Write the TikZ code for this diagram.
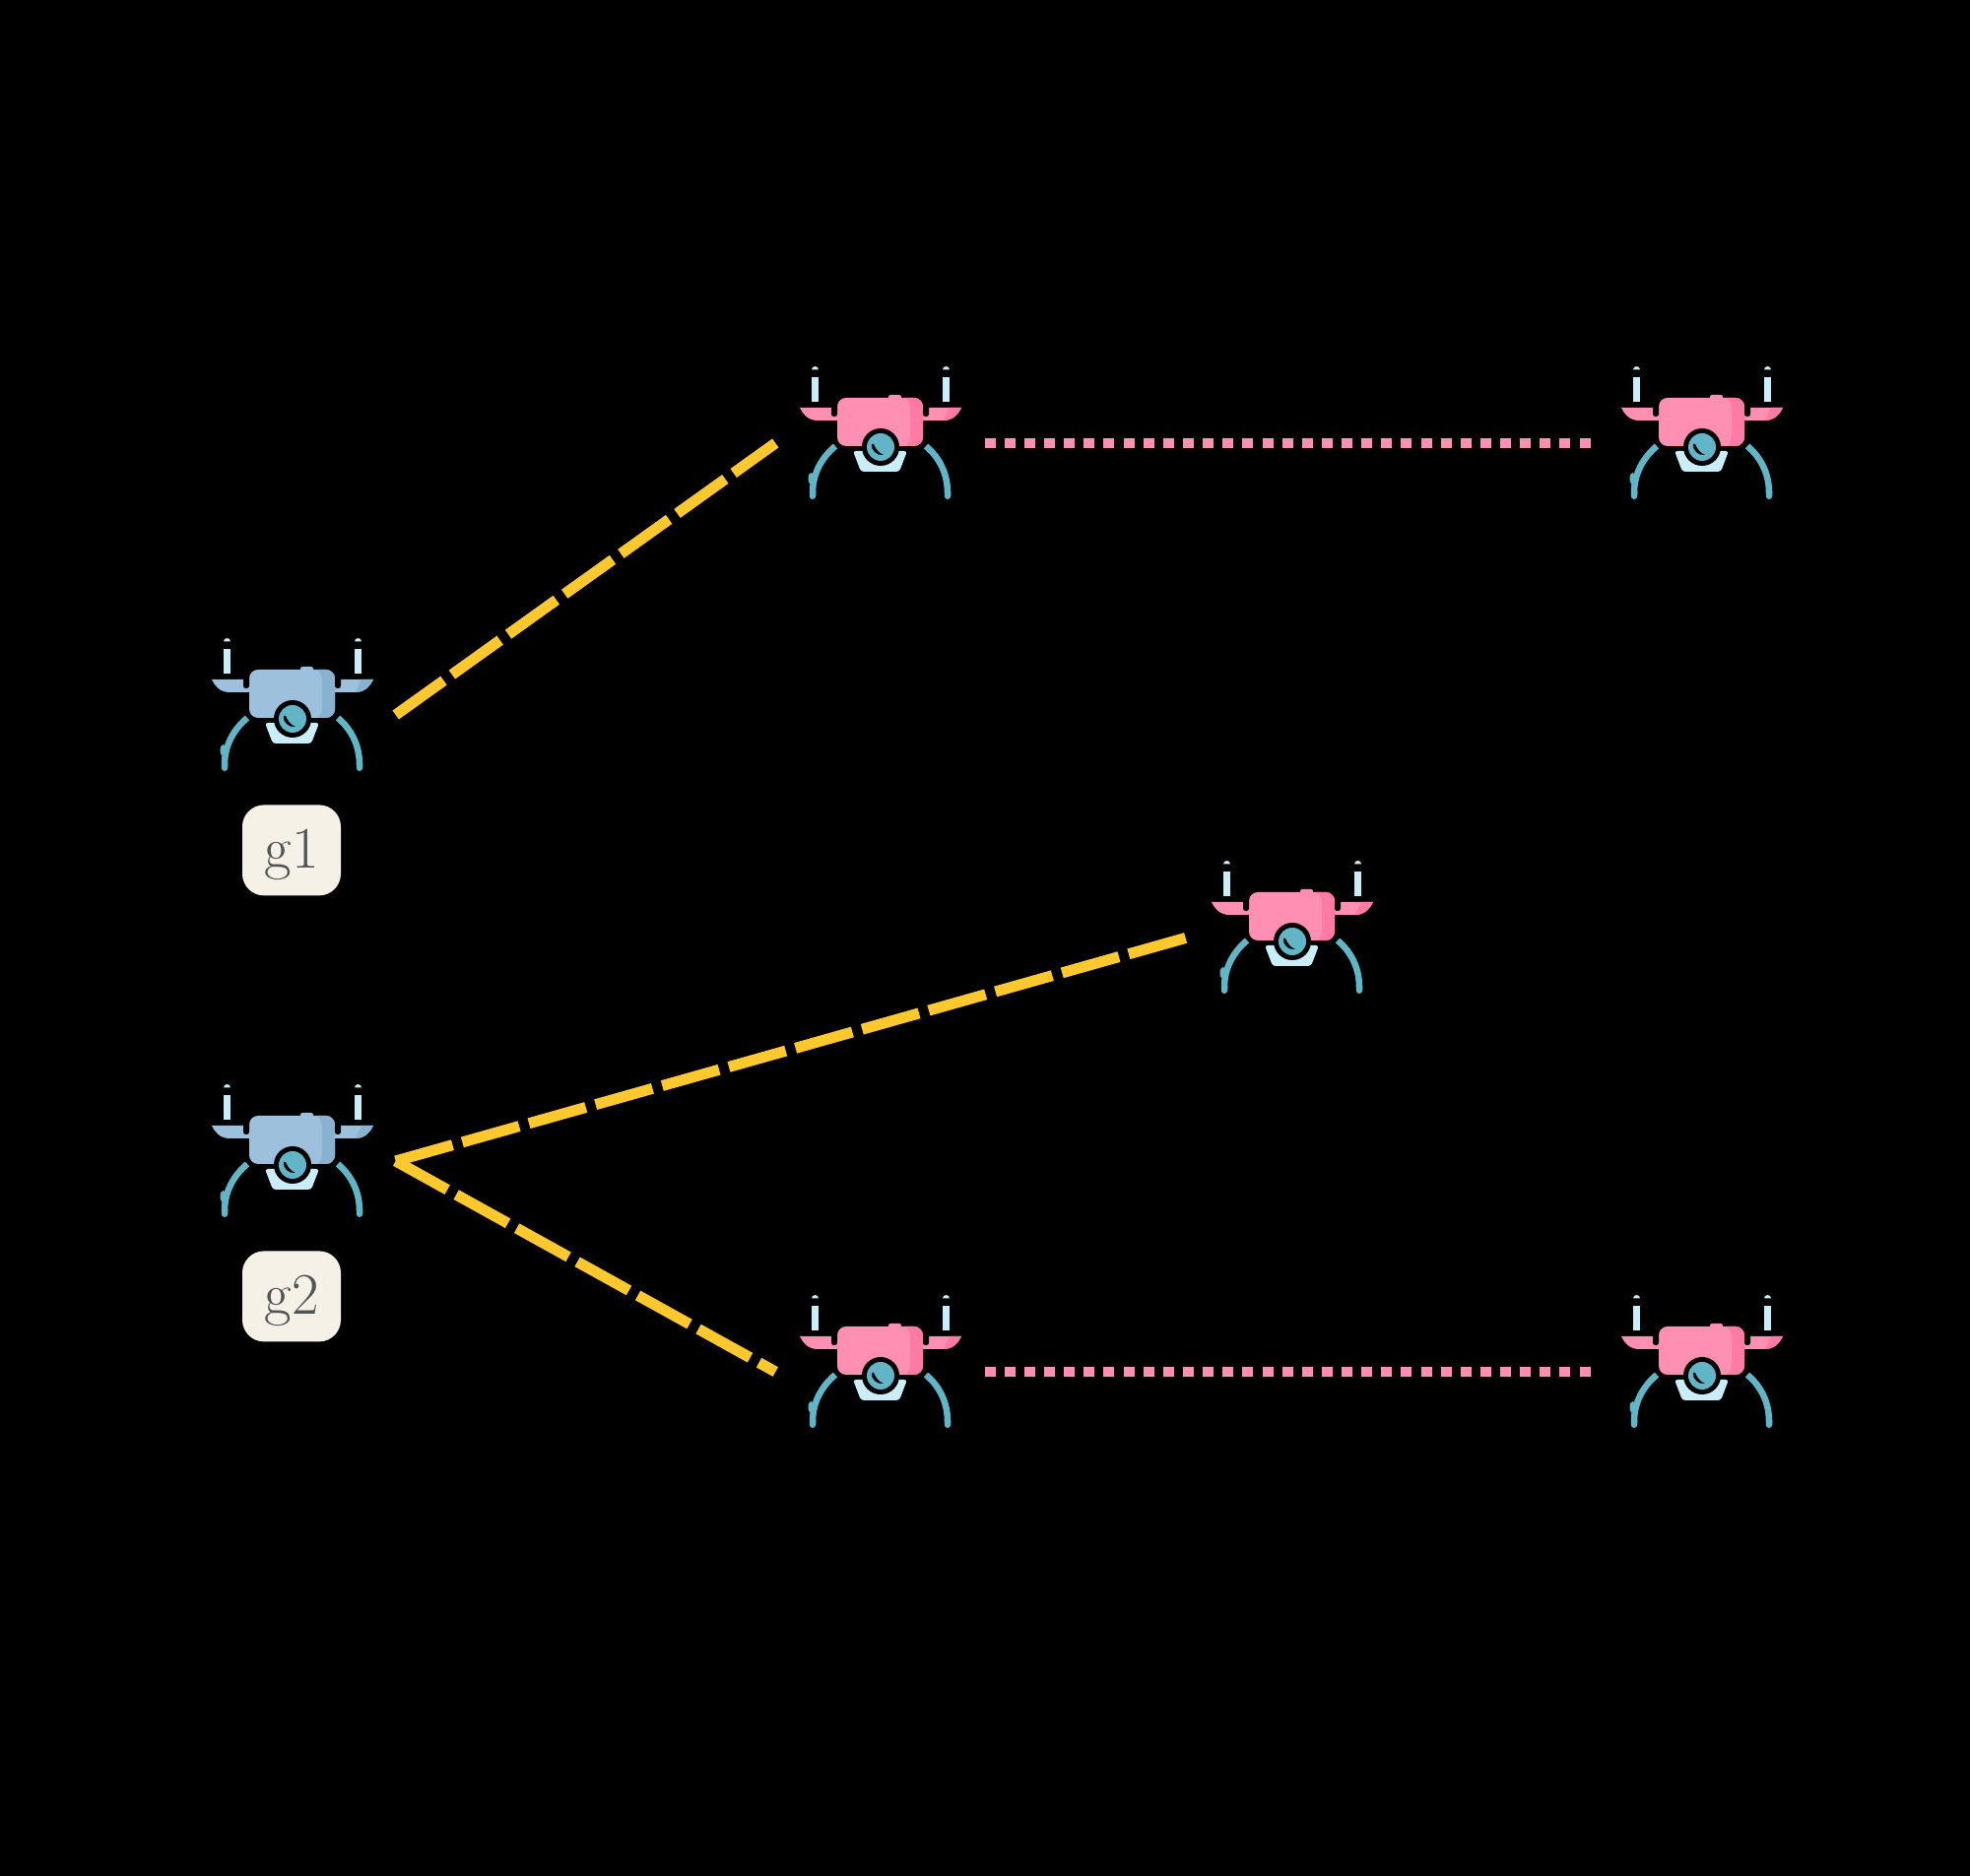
\documentclass[tikz,border=0pt]{standalone}
\usepackage{xcolor}
\usetikzlibrary{positioning,arrows.meta}

\definecolor{bodypink}{HTML}{FF8FB3}
\definecolor{shadepink}{HTML}{FF7BA6}
\definecolor{bodyblue}{HTML}{9DC0DC}
\definecolor{shadeblue}{HTML}{89B2D0}
\definecolor{legteal}{HTML}{62B4C7}
\definecolor{palecyan}{HTML}{C9EEFA}
\definecolor{linkyellow}{HTML}{FFC82F}
\definecolor{labelcream}{HTML}{F6F1E7}
\definecolor{labeltext}{HTML}{50555A}

\tikzset{
    pics/drone/.style 2 args={code={
        % legs
        \draw[legline] (-.45,-.03) .. controls (-.58,-.14) and (-.68,-.30) .. (-.68,-.57);
        \draw[legline] (.47,-.03) .. controls (.60,-.14) and (.69,-.30) .. (.69,-.57);
        \fill[legteal] (-.695,-.36) ellipse (.03 and .06);
        % antennas
        \fill[palecyan] (-.69,.42) rectangle (-.62,.67);
        \fill[palecyan] (.64,.42) rectangle (.71,.67);
        \fill[palecyan] (-.69,.745) arc[start angle=180,end angle=0,radius=.035] -- cycle;
        \fill[palecyan] (.64,.745) arc[start angle=180,end angle=0,radius=.035] -- cycle;
        % wings
        \fill[#1] (-.81,.36) -- (-.40,.36) -- (-.40,.23) -- (-.63,.23) .. controls (-.72,.23) and (-.78,.29) .. cycle;
        \fill[#1] (.83,.36) -- (.40,.36) -- (.40,.23) -- (.65,.23) .. controls (.74,.23) and (.80,.29) .. cycle;
        \fill[#2] (.71,.36) -- (.83,.36) .. controls (.80,.29) and (.74,.23) .. (.65,.23) .. controls (.67,.28) and (.69,.32) .. cycle;
        % body
        \fill[#1, rounded corners=.09cm] (-.43,-.03) rectangle (.44,.46);
        \fill[#1, rounded corners=.02cm] (.09,.44) rectangle (.22,.49);
        \begin{scope}
            \clip[rounded corners=.09cm] (-.43,-.03) rectangle (.44,.46);
            \fill[#2] (.25,.47) .. controls (.30,.43) and (.31,.38) .. (.31,.34) -- (.31,.08) .. controls (.31,.03) and (.29,-.01) .. (.26,-.04) -- (.50,-.04) -- (.50,.47) -- cycle;
        \end{scope}
        \fill[black, rounded corners=.025cm] (-.49,.27) rectangle (-.43,.40);
        \fill[black, rounded corners=.025cm] (.44,.27) rectangle (.50,.40);
        % camera
        \fill[palecyan, rounded corners=.03cm] (-.27,-.08) -- (.28,-.08) -- (.20,-.29) -- (-.19,-.29) -- cycle;
        \fill[black] (.01,-.04) circle (.19);
        \fill[legteal] (.01,-.04) circle (.14);
        \fill[black] (-.08,-.01) .. controls (-.09,-.07) and (-.03,-.13) .. (.04,-.12) .. controls (-.01,-.10) and (-.04,-.06) .. (-.06,-.01) -- cycle;
    }},
    legline/.style={legteal, line width=.065cm, -{Round Cap[]}},
    dronebox/.style={rectangle, inner sep=0, minimum width=2.10cm, minimum height=1.40cm},
    labelbox/.style={rectangle, fill=labelcream, text=labeltext, rounded corners=.22cm, inner sep=0,
        minimum width=1.00cm, minimum height=.92cm, text height=.38cm, text depth=.02cm,
        font=\fontsize{17}{20}\selectfont},
    yellowlink/.style={linkyellow, line width=.11cm, dash pattern=on .60cm off .103cm},
    pinklink/.style={bodypink, line width=.10cm, dash pattern=on .11cm off .0913cm, shorten >=.06cm, shorten <=.01cm}
}

\begin{document}
\begin{tikzpicture}
    \fill[black] (0,0) rectangle (20,19.05);
    \useasboundingbox (0,0) rectangle (20,19.05);

    % Drones
    \node[dronebox] (g1) at (2.96, 11.79) {};
    \node[dronebox] (g2) at (2.96, 7.26) {};
    \node[dronebox] (a1) at (8.93, 14.55) {};
    \node[dronebox] (b1) at (17.27, 14.55) {};
    \node[dronebox] (c1) at (13.11, 9.53) {};
    \node[dronebox] (a2) at (8.93, 5.12) {};
    \node[dronebox] (b2) at (17.27, 5.12) {};

    \foreach \n in {g1,g2}
        \pic at (\n) {drone={bodyblue}{shadeblue}};
    \foreach \n in {a1,b1,c1,a2,b2}
        \pic at (\n) {drone={bodypink}{shadepink}};

    % Labels
    \node[labelbox, below=.20cm of g1] (l1) {g1};
    \node[labelbox, below=.20cm of g2] (l2) {g2};

    % Links
    \draw[yellowlink] (g1.east) -- (a1.west);
    \draw[yellowlink] (g2.east) -- (c1.west);
    \draw[yellowlink] (g2.east) -- (a2.west);
    \draw[pinklink] (a1.east) -- (b1.west);
    \draw[pinklink] (a2.east) -- (b2.west);
\end{tikzpicture}
\end{document}
